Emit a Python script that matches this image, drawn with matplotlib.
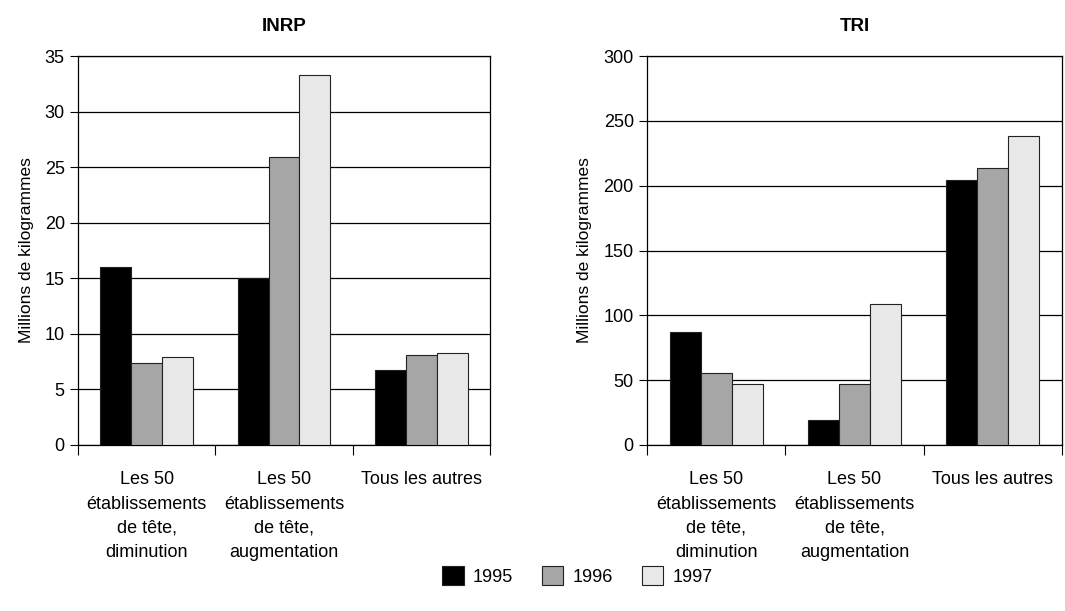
import numpy as np
import matplotlib
matplotlib.use('Agg')
import matplotlib.pyplot as plt
from matplotlib.patches import Patch

plt.rcParams['font.family'] = ['Liberation Sans Narrow', 'Liberation Sans', 'DejaVu Sans']

categories = ['Les 50\nétablissements\nde tête,\ndiminution',
              'Les 50\nétablissements\nde tête,\naugmentation',
              'Tous les autres']
years = ['1995', '1996', '1997']
colors = ['#000000', '#a6a6a6', '#e8e8e8']

inrp_1995 = [16.0, 15.0, 6.75]
inrp_1996 = [7.4, 25.9, 8.1]
inrp_1997 = [7.95, 33.3, 8.28]

tri_1995 = [86.9, 19.0, 204.6]
tri_1996 = [55.7, 46.9, 213.4]
tri_1997 = [46.9, 108.8, 238.2]

fig = plt.figure(figsize=(10.65, 6.11), dpi=100)
ax1 = fig.add_axes([0.0732, 0.2717, 0.387, 0.6366])
ax2 = fig.add_axes([0.6075, 0.2717, 0.3897, 0.6366])


def draw_panel(ax, series, title, ymax, step):
    x = np.arange(len(categories))
    w = 0.224
    for i, (vals, col) in enumerate(zip(series, colors)):
        ax.bar(x + (i - 1) * w, vals, width=w, color=col,
               edgecolor='#222222', linewidth=0.8, zorder=3)
    ax.set_xlim(-0.5, len(categories) - 0.5)
    ax.set_ylim(0, ymax)
    ax.set_yticks(np.arange(0, ymax + step, step))
    ax.yaxis.grid(True, color='black', linewidth=0.9, zorder=0)
    ax.set_axisbelow(True)
    # category boundaries as ticks, labels in the middle
    ax.set_xticks(np.arange(-0.5, len(categories), 1.0))
    ax.set_xticklabels([])
    ax.set_xticks(x, minor=True)
    ax.set_xticklabels(categories, minor=True, fontsize=13, linespacing=1.55)
    ax.tick_params(axis='x', which='minor', length=0, pad=19)
    ax.tick_params(axis='x', which='major', length=7, direction='out')
    ax.tick_params(axis='y', length=6, labelsize=13)
    for s in ax.spines.values():
        s.set_linewidth(0.9)
    ax.set_ylabel('Millions de kilogrammes', fontsize=12.5, labelpad=8)
    ax.set_title(title, fontsize=13.5, fontweight='bold', pad=18)


draw_panel(ax1, [inrp_1995, inrp_1996, inrp_1997], 'INRP', 35, 5)
draw_panel(ax2, [tri_1995, tri_1996, tri_1997], 'TRI', 300, 50)

handles = [Patch(facecolor=c, edgecolor='#222222', linewidth=0.8) for c in colors]
fig.legend(handles, years, loc='center', bbox_to_anchor=(0.542, 0.057), ncol=3,
           frameon=False, fontsize=13, handlelength=1.2, handleheight=1.2,
           columnspacing=1.6, handletextpad=0.5)

fig.savefig('out.png', dpi=100)
